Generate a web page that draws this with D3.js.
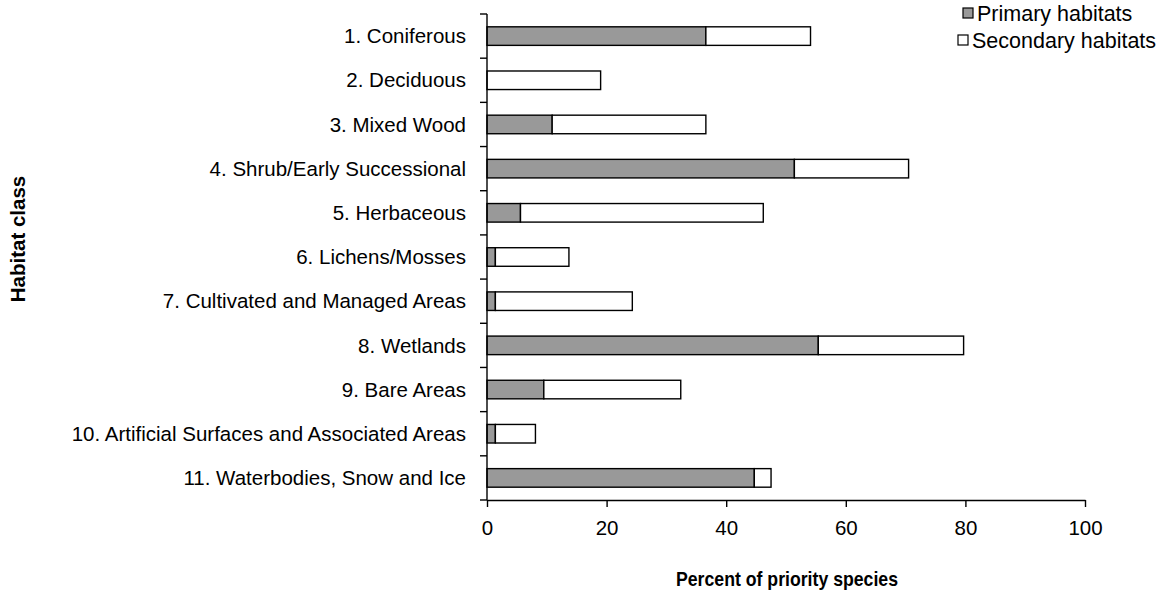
<!DOCTYPE html>
<html>
<head>
<meta charset="utf-8">
<script src="https://cdn.jsdelivr.net/npm/d3@7"></script>
<style>
  html, body { margin: 0; padding: 0; background: #fff; }
  svg { display: block; font-family: "Liberation Sans", Arial, sans-serif; }
</style>
</head>
<body>
<svg id="chart" width="1166" height="592"></svg>
<script>
// Habitat classes, top to bottom
const categories = [
  "1. Coniferous",
  "2. Deciduous",
  "3. Mixed Wood",
  "4. Shrub/Early Successional",
  "5. Herbaceous",
  "6. Lichens/Mosses",
  "7. Cultivated and Managed Areas",
  "8. Wetlands",
  "9. Bare Areas",
  "10. Artificial Surfaces and Associated Areas",
  "11. Waterbodies, Snow and Ice"
];
// Percent of priority species using each class as primary habitat
const primary = [36.6, 0, 10.9, 51.4, 5.6, 1.4, 1.4, 55.4, 9.5, 1.4, 44.7];
// Additional percent using each class as secondary habitat (stacked after primary)
const secondary = [17.5, 19.0, 25.7, 19.1, 40.6, 12.3, 22.9, 24.3, 22.9, 6.7, 2.8];
const seriesNames = ["Primary habitats", "Secondary habitats"];
const xTicks = [0, 20, 40, 60, 80, 100];

const svg = d3.select("#chart");
const margin = { left: 487, right: 81, top: 14, bottom: 92 };
const W = 1166, H = 592;
const labelFont = 20.5;

const x = d3.scaleLinear().domain([0, 100]).range([margin.left, W - margin.right]);
const y = d3.scaleBand().domain(categories).range([margin.top, H - margin.bottom]).paddingInner(0.58).paddingOuter(0.29);
const yTicks = d3.scaleBand().domain(categories).range([margin.top, H - margin.bottom]);

const rows = categories.map((c, i) => ({ cat: c, p: primary[i], s: secondary[i] }));
const stack = d3.stack().keys(["p", "s"])(rows);
const fills = ["#999999", "#ffffff"];

const g = svg.append("g");
stack.forEach((layer, li) => {
  g.selectAll(null).data(layer).enter().append("rect")
    .attr("x", d => x(d[0]))
    .attr("y", d => y(d.data.cat))
    .attr("width", d => Math.max(0, x(d[1]) - x(d[0])))
    .attr("height", y.bandwidth())
    .attr("fill", fills[li])
    .attr("stroke", "#000")
    .attr("stroke-width", 1.4)
    .attr("display", d => (d[1] - d[0]) > 0 ? null : "none");
});

// Category axis: boundary ticks between bands, labels centered on bars
const yAxisG = svg.append("g");
yAxisG.append("line")
  .attr("x1", x(0)).attr("x2", x(0))
  .attr("y1", margin.top).attr("y2", H - margin.bottom)
  .attr("stroke", "#000").attr("stroke-width", 1.4);
const bounds = categories.map(c => yTicks(c)).concat([H - margin.bottom]);
yAxisG.selectAll(null).data(bounds).enter().append("line")
  .attr("x1", x(0) - 7).attr("x2", x(0))
  .attr("y1", d => d).attr("y2", d => d)
  .attr("stroke", "#000").attr("stroke-width", 1.4);
yAxisG.selectAll(null).data(categories).enter().append("text")
  .attr("x", x(0) - 21)
  .attr("y", d => y(d) + y.bandwidth() / 2)
  .attr("dy", "0.35em")
  .attr("text-anchor", "end")
  .attr("font-size", labelFont)
  .attr("fill", "#000")
  .text(d => d);

// Value axis
const xAxis = d3.axisBottom(x).tickValues(xTicks).tickSize(7).tickPadding(13).tickSizeOuter(0);
const xg = svg.append("g").attr("transform", `translate(0,${H - margin.bottom})`).call(xAxis);
xg.select(".domain").attr("stroke", "#000").attr("stroke-width", 1.4);
xg.selectAll(".tick line").attr("stroke", "#000").attr("stroke-width", 1.4);
xg.selectAll(".tick text").attr("font-size", labelFont).attr("fill", "#000")
  .attr("font-family", "'Liberation Sans', Arial, sans-serif");

// Axis titles
svg.append("text")
  .attr("x", 676)
  .attr("y", 586)
  .attr("font-size", 20.5)
  .attr("font-weight", "bold")
  .attr("textLength", 222)
  .attr("lengthAdjust", "spacingAndGlyphs")
  .text("Percent of priority species");

svg.append("text")
  .attr("transform", `translate(25,239) rotate(-90)`)
  .attr("text-anchor", "middle")
  .attr("font-size", 20.5)
  .attr("font-weight", "bold")
  .text("Habitat class");

// Legend
const legendX = [963, 958];
seriesNames.forEach((name, i) => {
  const cy = 13 + i * 27;
  const item = svg.append("g").attr("transform", `translate(${legendX[i]},${cy})`);
  item.append("rect")
    .attr("x", 0).attr("y", -5).attr("width", 10).attr("height", 10)
    .attr("fill", fills[i]).attr("stroke", "#000").attr("stroke-width", 1.2);
  item.append("text")
    .attr("x", 14).attr("y", 0)
    .attr("dy", "0.35em")
    .attr("font-size", 21.5)
    .text(name);
});
</script>
</body>
</html>
